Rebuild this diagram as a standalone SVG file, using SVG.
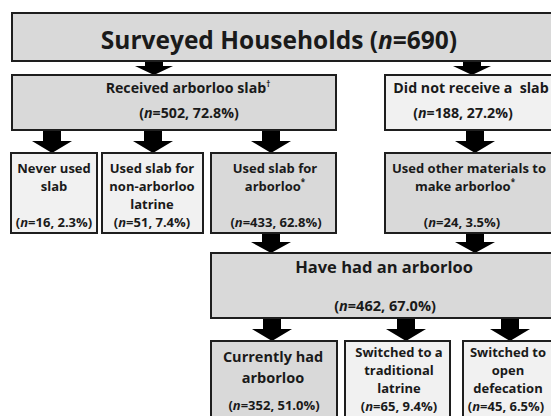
<svg xmlns="http://www.w3.org/2000/svg" width="551" height="416" viewBox="0 0 551 416">
<style>
.dk{fill:#d9d9d9;stroke:#1e1e1e;stroke-width:2}
.lt{fill:#f1f1f1;stroke:#1e1e1e;stroke-width:2}
text{font-family:"Open Sans","Liberation Sans",sans-serif;font-weight:700;fill:#1a1a1a;text-anchor:middle}
.t{font-size:13px}
.r{font-size:14.2px}
.h{font-size:24.5px}
.m{font-size:16.5px}
.c{font-size:14.5px}
.sup{font-size:8px}
.arr{fill:#000}
</style>
<rect width="551" height="416" fill="#fff"/>
<g id="connectors">
<path class="arr" d="M145 61h18v5h10l-19 9l-19-9h10z"/>
<path class="arr" d="M463 61h18v5h10l-19 9l-19-9h10z"/>
<path class="arr" d="M43 130h18v11h11l-20 12l-20-12h11z"/>
<path class="arr" d="M144 130h18v11h11l-20 12l-20-12h11z"/>
<path class="arr" d="M262 130h18v11h11l-20 12l-20-12h11z"/>
<path class="arr" d="M466 130h18v11h11l-20 12l-20-12h11z"/>
<path class="arr" d="M262 233h18v9h11l-20 11l-20-11h11z"/>
<path class="arr" d="M466 233h18v9h11l-20 11l-20-11h11z"/>
<path class="arr" d="M263 318h18v11h11l-20 12l-20-12h11z"/>
<path class="arr" d="M397 318h18v11h11l-20 12l-20-12h11z"/>
<path class="arr" d="M501 318h18v11h11l-20 12l-20-12h11z"/>
</g>
<g id="surveyed">
<rect class="dk" x="12" y="13" width="560" height="48"/>
<text class="h" x="279" y="49">Surveyed Households (<tspan font-style="italic">n</tspan>=690)</text>
</g>
<g id="received">
<rect class="dk" x="12" y="75" width="324" height="55"/>
<text class="r" x="188" y="93">Received arborloo slab<tspan class="sup" dy="-6">†</tspan></text>
<text class="r" x="189" y="118">(<tspan font-style="italic">n</tspan>=502, 72.8%)</text>
</g>
<g id="notreceived">
<rect class="lt" x="385" y="75" width="180" height="55"/>
<text class="r" x="471" y="93" xml:space="preserve">Did not receive a  slab</text>
<text class="r" x="463" y="118">(<tspan font-style="italic">n</tspan>=188, 27.2%)</text>
</g>
<g id="neverused">
<rect class="lt" x="11" y="153" width="86" height="80"/>
<text class="t" x="54" y="173">Never used</text>
<text class="t" x="54" y="191">slab</text>
<text class="t" x="54" y="227">(<tspan font-style="italic">n</tspan>=16, 2.3%)</text>
</g>
<g id="nonarborloo">
<rect class="lt" x="102" y="153" width="101" height="80"/>
<text class="t" x="152" y="173">Used slab for</text>
<text class="t" x="152" y="191">non-arborloo</text>
<text class="t" x="152" y="209">latrine</text>
<text class="t" x="152" y="227">(<tspan font-style="italic">n</tspan>=51, 7.4%)</text>
</g>
<g id="usedslab">
<rect class="dk" x="211" y="153" width="125" height="80"/>
<text class="t" x="275" y="173">Used slab for</text>
<text class="t" x="275" y="191">arborloo<tspan class="sup" dy="-6">*</tspan></text>
<text class="t" x="276" y="227">(<tspan font-style="italic">n</tspan>=433, 62.8%)</text>
</g>
<g id="othermaterials">
<rect class="dk" x="385" y="153" width="180" height="80"/>
<text class="t" x="469" y="173">Used other materials to</text>
<text class="t" x="465" y="191">make arborloo<tspan class="sup" dy="-6">*</tspan></text>
<text class="t" x="462" y="227">(<tspan font-style="italic">n</tspan>=24, 3.5%)</text>
</g>
<g id="havehad">
<rect class="dk" x="211" y="253" width="360" height="65"/>
<text class="m" x="384" y="273">Have had an arborloo</text>
<text class="c" x="385" y="311">(<tspan font-style="italic">n</tspan>=462, 67.0%)</text>
</g>
<g id="currently">
<rect class="dk" x="211" y="341" width="126" height="85"/>
<text class="c" x="273" y="362">Currently had</text>
<text class="c" x="273" y="383">arborloo</text>
<text class="t" x="274" y="410">(<tspan font-style="italic">n</tspan>=352, 51.0%)</text>
</g>
<g id="traditional">
<rect class="lt" x="345" y="341" width="105" height="85"/>
<text class="t" x="399" y="357">Switched to a</text>
<text class="t" x="399" y="375">traditional</text>
<text class="t" x="399" y="393">latrine</text>
<text class="t" x="399" y="411">(<tspan font-style="italic">n</tspan>=65, 9.4%)</text>
</g>
<g id="opendefecation">
<rect class="lt" x="463" y="341" width="100" height="85"/>
<text class="t" x="508" y="357">Switched to</text>
<text class="t" x="508" y="375">open</text>
<text class="t" x="508" y="393">defecation</text>
<text class="t" x="506" y="411">(<tspan font-style="italic">n</tspan>=45, 6.5%)</text>
</g>
</svg>
